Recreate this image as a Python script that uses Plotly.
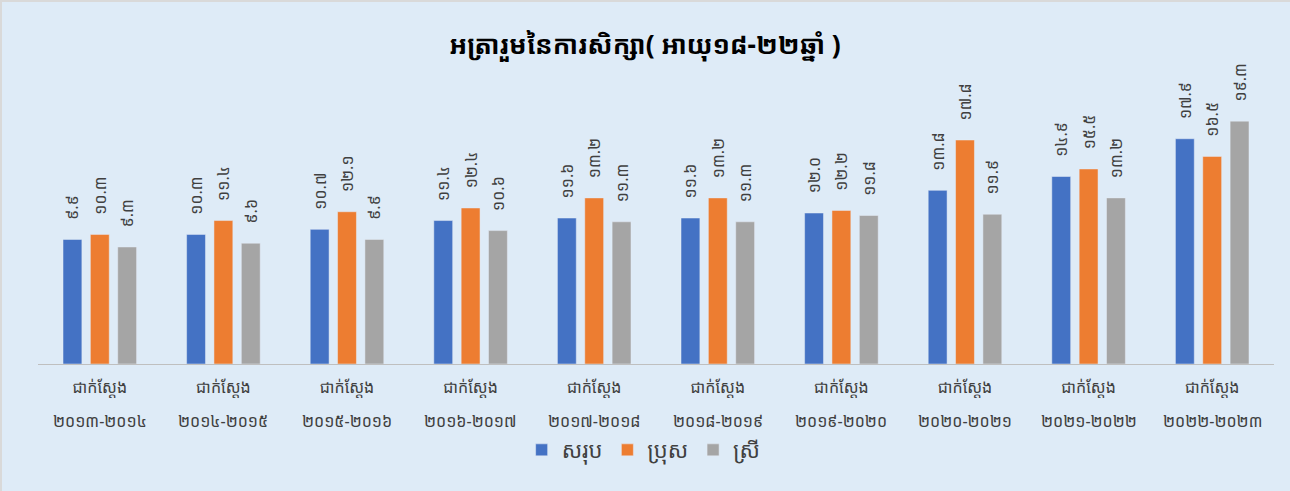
import plotly.graph_objects as go

# data
years = ["២០១៣-២០១៤", "២០១៤-២០១៥", "២០១៥-២០១៦", "២០១៦-២០១៧", "២០១៧-២០១៨",
         "២០១៨-២០១៩", "២០១៩-២០២០", "២០២០-២០២១", "២០២១-២០២២", "២០២២-២០២៣"]
total = [9.9, 10.3, 10.7, 11.4, 11.6, 11.6, 12.0, 13.8, 14.9, 17.9]
male = [10.3, 11.4, 12.1, 12.4, 13.2, 13.2, 12.2, 17.8, 15.5, 16.5]
female = [9.3, 9.6, 9.9, 10.6, 11.3, 11.3, 11.8, 11.9, 13.2, 19.3]
series_names = ["សរុប", "ប្រុស", "ស្រី"]
cat_word = "ជាក់ស្តែង"
title_text = "អត្រារួមនៃការសិក្សា( អាយុ១៨-២២ឆ្នាំ )"

KH_DIGITS = str.maketrans("0123456789", "០១២៣៤៥៦៧៨៩")


def kh(v):
    # leading nbsp keeps the label off the bar top, like Excel does
    return "\u00a0\u00a0\u00a0\u00a0" + f"{v:.1f}".translate(KH_DIGITS)


W, H = 1290, 491
L, R, T, B = 38, 16, 62, 127
colors = ["#4472C4", "#ED7D31", "#A5A5A5"]
font_family = "Noto Sans Khmer, Khmer OS, Noto Serif Khmer, Noto Sans, sans-serif"

fig = go.Figure()
for name, vals, col in zip(series_names, [total, male, female], colors):
    fig.add_trace(go.Bar(
        x=years, y=vals, name=name,
        marker=dict(color=col),
        text=[kh(v) for v in vals],
        textposition="outside", textangle=-90, constraintext="none",
        textfont=dict(size=16, color="#404040", family=font_family),
        cliponaxis=False,
    ))

# second line of the category labels
for y in years:
    fig.add_annotation(x=y, y=0, xref="x", yref="y", text=y, showarrow=False,
                       yshift=-57, font=dict(size=16, color="#404040"))

pw, ph = W - L - R, H - T - B
fig.add_shape(type="rect", xref="paper", yref="paper",
              x0=-(L - 1) / pw, x1=(pw + R + 5) / pw,
              y0=-(B + 5) / ph, y1=(ph + T - 1) / ph,
              line=dict(color="#D9D9D9", width=2), layer="below")

fig.update_layout(
    width=W, height=H,
    paper_bgcolor="#DEEBF7", plot_bgcolor="#DEEBF7",
    margin=dict(l=L, r=R, t=T, b=B),
    barmode="group", bargap=0.336, bargroupgap=0.31,
    title=dict(text=f"<b>{title_text}</b>", x=0.5, xanchor="center",
               y=0.908, yanchor="middle",
               font=dict(size=26, color="#000000", family=font_family)),
    font=dict(family=font_family, color="#404040"),
    xaxis=dict(showline=True, linecolor="#BFBFBF", linewidth=1,
               tickvals=years, ticktext=[cat_word] * len(years),
               tickfont=dict(size=16, color="#404040"), ticks="",
               ticklabelstandoff=9),
    yaxis=dict(range=[0, 24], visible=False, showgrid=False),
    legend=dict(orientation="h", x=0.49, xanchor="center", y=-0.285,
                yanchor="middle", font=dict(size=22, color="#404040"),
                itemwidth=30, traceorder="normal"),
    showlegend=True,
)

fig.write_html("out.html", config={"displayModeBar": False},
               post_script="document.body.style.margin='0';")
